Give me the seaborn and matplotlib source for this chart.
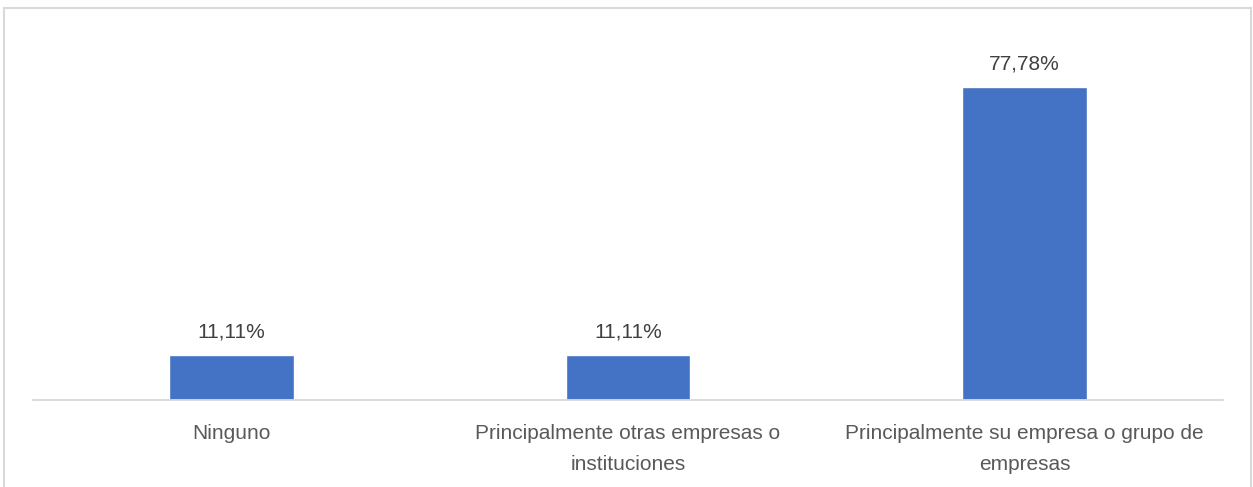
import matplotlib
matplotlib.use("Agg")
import matplotlib.pyplot as plt
from matplotlib.patches import Rectangle
import seaborn as sns
import pandas as pd

categories = [
    "Ninguno",
    "Principalmente otras empresas o\ninstituciones",
    "Principalmente su empresa o grupo de\nempresas",
]
values = [11.11, 11.11, 77.78]
value_labels = ["11,11%", "11,11%", "77,78%"]

sns.set_theme(style="white")
plt.rcParams["font.family"] = ["Liberation Sans", "DejaVu Sans"]

df = pd.DataFrame({"categoria": categories, "valor": values})

fig = plt.figure(figsize=(12.53, 4.87), dpi=100)
ax = fig.add_axes([33 / 1253, 87 / 487, 1190 / 1253, 362 / 487])

sns.barplot(data=df, x="categoria", y="valor", color="#4472C4",
            saturation=1, width=0.315, ax=ax)

ax.set_ylim(0, 90)
ax.set_xlabel("")
ax.set_ylabel("")
ax.set_yticks([])
for side in ("top", "left", "right"):
    ax.spines[side].set_visible(False)
ax.spines["bottom"].set_color("#d9d9d9")
ax.spines["bottom"].set_linewidth(1.3)
ax.tick_params(axis="x", length=0, pad=17.5, labelsize=15, colors="#595959")
for lbl in ax.get_xticklabels():
    lbl.set_linespacing(1.75)

ax.bar_label(ax.containers[0], labels=value_labels, padding=10,
             fontsize=15, color="#404040")

# chart frame
fig.patches.append(Rectangle((3.5 / 1253, -0.02), 1247.5 / 1253, 1 - 7.5 / 487 + 0.02,
                             transform=fig.transFigure, fill=False,
                             edgecolor="#d9d9d9", linewidth=1.5))

fig.savefig("out.png", dpi=100, facecolor="white")
